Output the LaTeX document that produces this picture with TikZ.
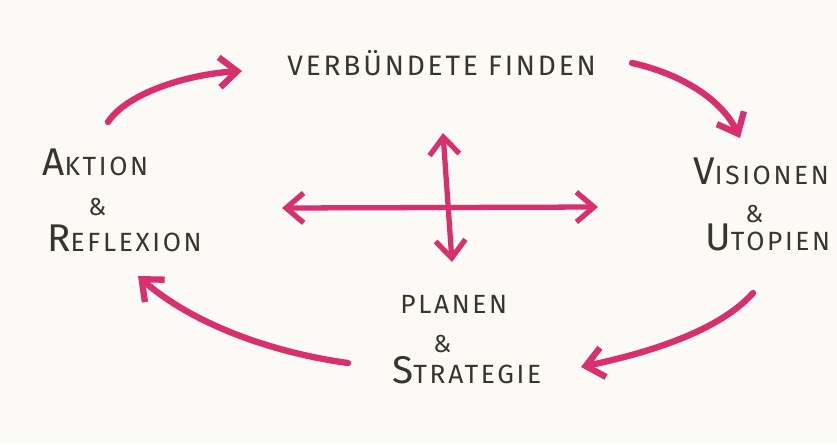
\documentclass[tikz,border=0pt]{standalone}
\usepackage{fontspec}
\setsansfont[LetterSpace=10]{Fira Sans}
\definecolor{skpaper}{HTML}{FCFAF6}
\definecolor{skink}{HTML}{3B342A}
\definecolor{skpink}{HTML}{D8306F}
\usetikzlibrary{arrows.meta}
\newcommand\firstletter[1]{{\fontsize{22}{22}\selectfont #1}}

\begin{document}
\begin{tikzpicture}[x=0.02cm, y=-0.02cm,
    wordnode/.style={font=\sffamily\fontsize{15}{18}\selectfont, text=skink, inner sep=0pt, anchor=base west},
    ampnode/.style={font=\sffamily\fontsize{14}{16}\selectfont, text=skink, inner sep=0pt, anchor=base west},
    crayon/.style={draw=skpink, line width=3.6pt, line cap=round, line join=round,
                   -{Straight Barb[length=10pt, width=17pt]}},
    crossarrow/.style={draw=skpink, line width=3pt, line cap=round, line join=round,
                   {Straight Barb[length=10pt, width=17pt]}-{Straight Barb[length=10pt, width=17pt]}},
  ]
    \fill[skpaper] (0,0) rectangle (837,444);
    \useasboundingbox (0,0) rectangle (837,444);

    \node[wordnode, font=\sffamily\fontsize{16}{19}\selectfont] (verb) at (287,75) {VERBÜNDETE FINDEN};
    \node[wordnode] (aktion) at (42,175) {\firstletter{A}KTION};
    \node[ampnode] (amp1) at (88,215) {\&};
    \node[wordnode] (reflexion) at (47,251) {\firstletter{R}EFLEXION};
    \node[wordnode] (visionen) at (693,184) {\firstletter{V}ISIONEN};
    \node[ampnode] (amp2) at (745,222) {\&};
    \node[wordnode] (utopien) at (705,250) {\firstletter{U}TOPIEN};
    \node[wordnode] (planen) at (400,313) {PLANEN};
    \node[ampnode] (amp3) at (433,352) {\&};
    \node[wordnode] (strategie) at (392,383) {\firstletter{S}TRATEGIE};

    \coordinate (tl-s) at (108,122);
    \coordinate (tl-e) at (242,71);
    \coordinate (tr-s) at (632,63);
    \coordinate (tr-e) at (740,138);
    \coordinate (br-s) at (753,293);
    \coordinate (br-e) at (581,367);
    \coordinate (bl-s) at (348,363);
    \coordinate (bl-e) at (138,276);
    \coordinate (cross-w) at (282,208);
    \coordinate (cross-e) at (598,207);
    \coordinate (cross-n) at (443,133);
    \coordinate (cross-s) at (452,262);

    \draw[crayon] (tl-s) .. controls (128,92) and (190,74) .. (tl-e);
    \draw[crayon] (tr-s) .. controls (682,74) and (722,100) .. (tr-e);
    \draw[crayon] (br-s) .. controls (720,330) and (652,352) .. (br-e);
    \draw[crayon] (bl-s) .. controls (268,352) and (190,322) .. (bl-e);
    \draw[crossarrow] (cross-w) -- (cross-e);
    \draw[crossarrow] (cross-n) -- (cross-s);
  \end{tikzpicture}
\end{document}
